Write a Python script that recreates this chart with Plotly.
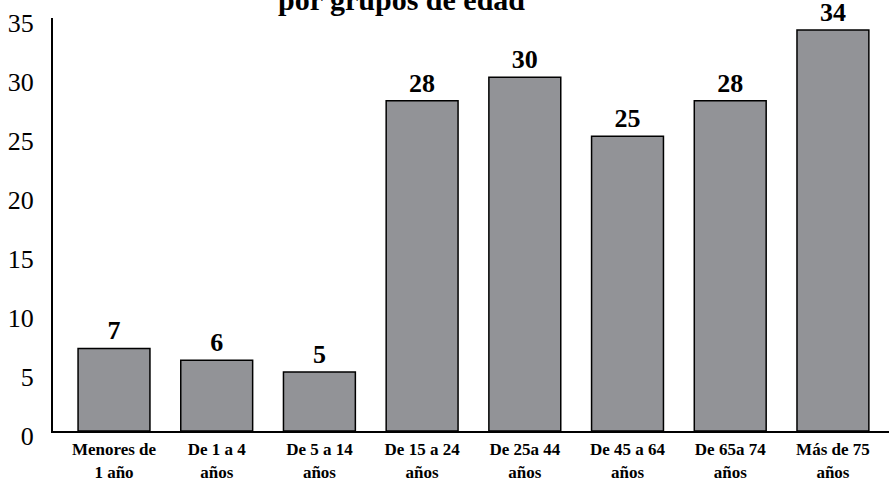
import plotly.graph_objects as go

categories = ["Menores de<br>1 año", "De 1 a 4<br>años", "De 5 a 14<br>años", "De 15 a 24<br>años",
              "De 25a 44<br>años", "De 45 a 64<br>años", "De 65a 74<br>años", "Más de 75<br>años"]
values = [7, 6, 5, 28, 30, 25, 28, 34]
y_ticks = [0, 5, 10, 15, 20, 25, 30, 35]
title_text = "por grupos de edad"

FONT = "Liberation Serif"

fig = go.Figure(go.Bar(
    x=list(range(len(categories))),
    y=values,
    marker=dict(color="#929397", line=dict(color="#000000", width=1.5)),
    text=[str(v) for v in values],
    textposition="outside",
    cliponaxis=False,
    textfont=dict(family=FONT, size=26, color="#000000", weight="bold"),
))

fig.update_layout(
    width=889, height=480,
    margin=dict(l=53, r=0, t=18, b=49, pad=0, autoexpand=False),
    paper_bgcolor="white", plot_bgcolor="white",
    bargap=0.30,
    showlegend=False,
    font=dict(family=FONT, color="#000000"),
    annotations=[dict(
        text=title_text, xref="paper", yref="paper",
        x=(401 - 53) / 836, y=1 + 18 / 413, xanchor="center", yanchor="middle",
        showarrow=False, font=dict(family=FONT, size=30, color="#000000", weight="bold"),
    )],
)

fig.update_xaxes(
    tickmode="array", tickvals=list(range(len(categories))), ticktext=categories,
    range=[-0.594, 7.546], automargin=False,
    showline=True, linecolor="#000000", linewidth=2,
    showgrid=False, zeroline=False, ticks="",
    ticklabelstandoff=2,
    tickfont=dict(family=FONT, size=17, color="#000000", weight="bold"),
)

fig.update_yaxes(
    range=[0, 35.02], tickmode="array", tickvals=y_ticks, automargin=False,
    showline=True, linecolor="#000000", linewidth=2,
    showgrid=False, zeroline=False, ticks="",
    ticklabelstandoff=12, ticklabelshift=5, ticklabeloverflow="allow",
    tickfont=dict(family=FONT, size=26, color="#000000"),
)

fig.write_html("out.html", config={"displayModeBar": False},
               post_script="document.body.style.margin='0';document.body.style.overflow='hidden';")
